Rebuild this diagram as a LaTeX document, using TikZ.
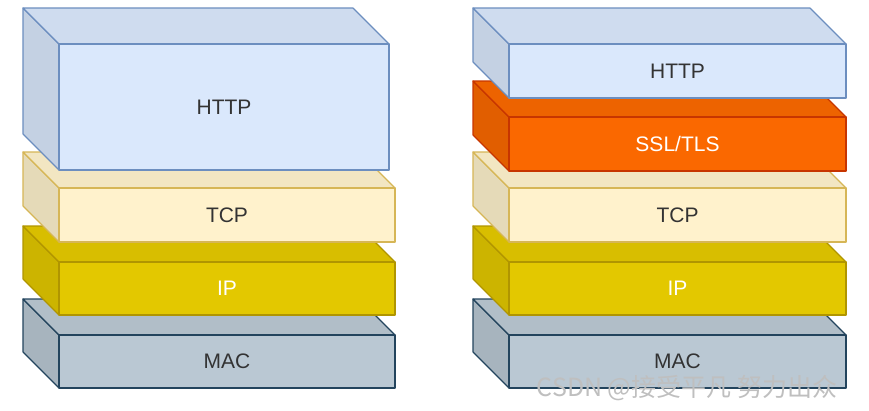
\documentclass[tikz,border=0pt]{standalone}
\usepackage{fontspec}
\setmainfont{Liberation Sans}
\newfontfamily\cjkfont{Noto Sans CJK SC}
\usetikzlibrary{positioning}

\definecolor{httpfill}{HTML}{DAE8FC}
\definecolor{httpline}{HTML}{6C8EBF}
\definecolor{sslfill}{HTML}{FA6800}
\definecolor{sslline}{HTML}{C73500}
\definecolor{tcpfill}{HTML}{FFF2CC}
\definecolor{tcpline}{HTML}{D6B656}
\definecolor{ipfill}{HTML}{E3C800}
\definecolor{ipline}{HTML}{B09500}
\definecolor{macfill}{HTML}{BAC8D3}
\definecolor{macline}{HTML}{23445D}
\definecolor{labeldark}{HTML}{333333}

\tikzset{
  layerface/.style={line width=1.1pt, line join=round},
  layertext/.style={font=\fontsize{21}{25}\selectfont, text=#1},
}

% #1 name, #2 left, #3 right, #4 top, #5 bottom, #6 fill, #7 line, #8 text colour, #9 label
\newcommand{\layerbox}[9]{%
  \filldraw[layerface, fill=#6!90!black, draw=#7]
    (#2,#4) -- (#2-36,#4-36) -- (#2-36,#5-36) -- (#2,#5) -- cycle;
  \filldraw[layerface, fill=#6!95!black, draw=#7]
    (#2,#4) -- (#2-36,#4-36) -- (#3-36,#4-36) -- (#3,#4) -- cycle;
  \filldraw[layerface, fill=#6, draw=#7] (#2,#4) rectangle (#3,#5);
  \node[layertext=#8] (#1) at ({(#2+#3)/2},{(#4+#5)/2}) {#9};
}
\newcommand{\ssltls}{SSL/TLS}

\begin{document}
\begin{tikzpicture}[x=1pt,y=-1pt]
  \useasboundingbox (0,0) rectangle (869,410);
  % plain stack
  \foreach \nm/\lx/\rx/\ty/\by/\fc/\lc/\tc/\txt in {
      lmac/59/395/335/388/macfill/macline/labeldark/MAC,
      lip/59/395/262/315/ipfill/ipline/white/IP,
      ltcp/59/395/188/242/tcpfill/tcpline/labeldark/TCP,
      lhttp/59/389/44/170/httpfill/httpline/labeldark/HTTP} {
    \layerbox{\nm}{\lx}{\rx}{\ty}{\by}{\fc}{\lc}{\tc}{\txt}
  }
  % stack with SSL/TLS
  \foreach \nm/\lx/\rx/\ty/\by/\fc/\lc/\tc/\txt in {
      rmac/509/846/335/388/macfill/macline/labeldark/MAC,
      rip/509/846/262/315/ipfill/ipline/white/IP,
      rtcp/509/846/188/242/tcpfill/tcpline/labeldark/TCP,
      rssl/509/846/117/171/sslfill/sslline/white/\ssltls,
      rhttp/509/846/44/98/httpfill/httpline/labeldark/HTTP} {
    \layerbox{\nm}{\lx}{\rx}{\ty}{\by}{\fc}{\lc}{\tc}{\txt}
  }
  \node[font=\cjkfont\fontsize{25}{28}\selectfont, text=gray!50, inner sep=0pt] (wm) at (687,388) {CSDN @接受平凡 努力出众};
\end{tikzpicture}
\end{document}
